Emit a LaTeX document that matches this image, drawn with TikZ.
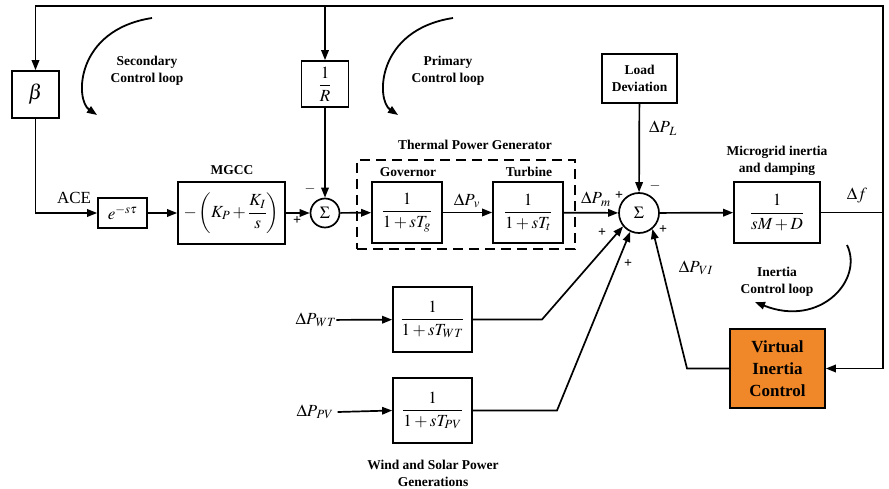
\documentclass[tikz,border=0pt]{standalone}
\usepackage{amsmath}
\usepackage{mathptmx}
\usepackage{fontspec}
\setmainfont{Liberation Serif}
\usetikzlibrary{arrows.meta}
\definecolor{vicor}{RGB}{240,135,40}
\tikzset{
 blk/.style={draw, line width=1.7pt, inner sep=0pt, font=\fontsize{17}{19}\selectfont},
 sumc/.style={draw, circle, line width=1.7pt, inner sep=0pt, font=\fontsize{17}{19}\selectfont},
 lbl/.style={font=\fontsize{13.5}{17}\selectfont\bfseries, align=center, inner sep=0pt},
 mth/.style={font=\fontsize{17}{19}\selectfont, inner sep=0pt},
 sgn/.style={font=\fontsize{14}{14}\selectfont\bfseries, inner sep=0pt},
 con/.style={line width=1.7pt},
 arr/.style={con, -{Triangle[length=10pt,width=7.5pt]}},
 loopar/.style={line width=1.8pt, -{Triangle[length=10pt,width=7.5pt]}},
}
\begin{document}
\begin{tikzpicture}[x=1pt,y=-1pt]
\useasboundingbox (0,0) rectangle (889,489);
% blocks
\node[blk, minimum width=47, minimum height=47] (beta) at (35.5,94.5) {\fontsize{21}{21}\selectfont$\beta$};
\node[blk, minimum width=49, minimum height=30] (delay) at (122.5,213) {$e^{-s\tau}$};
\node[blk, minimum width=107, minimum height=62] (mgcc) at (231.5,213) {$-\left(K_P+\dfrac{K_I}{s}\right)$};
\node[sumc, minimum size=29] (s1) at (325,213) {$\Sigma$};
\node[blk, minimum width=47, minimum height=46] (R) at (325,84) {$\dfrac{1}{R}$};
\node[draw, line width=1.7pt, dash pattern=on 10pt off 6pt, minimum width=218, minimum height=89, inner sep=0pt] (tpg) at (466,204.5) {};
\node[blk, minimum width=70, minimum height=61] (gov) at (407,212.5) {$\dfrac{1}{1+sT_g}$};
\node[blk, minimum width=70, minimum height=61] (tur) at (528,212.5) {$\dfrac{1}{1+sT_t}$};
\node[sumc, minimum size=40] (s2) at (639,213) {$\Sigma$};
\node[blk, lbl, minimum width=75, minimum height=49] (load) at (639.5,78.5) {Load\\Deviation};
\node[blk, minimum width=86, minimum height=61] (mg) at (777,212.5) {$\dfrac{1}{sM+D}$};
\node[blk, fill=vicor, minimum width=95, minimum height=79, align=center, font=\fontsize{17}{22}\selectfont\bfseries] (vic) at (777.5,368.5) {Virtual\\Inertia\\Control};
\node[blk, minimum width=79, minimum height=65] (wt) at (432.5,319.5) {$\dfrac{1}{1+sT_{WT}}$};
\node[blk, minimum width=79, minimum height=65] (pv) at (432.5,410.5) {$\dfrac{1}{1+sT_{PV}}$};
% input labels
\node[mth] (wtin) at (316,320) {$\Delta P_{\mkern2mu WT}$};
\node[mth] (pvin) at (315,412) {$\Delta P_{\mkern2mu PV}$};
% text labels
\node[lbl] (tsec) at (147,71) {Secondary\\Control loop};
\node[lbl] (tpri) at (448,71) {Primary\\Control loop};
\node[lbl] (tmgcc) at (232,170) {MGCC};
\node[lbl] (ttpg) at (475,145) {Thermal Power Generator};
\node[lbl] (tgov) at (408,172) {Governor};
\node[lbl] (ttur) at (529,172) {Turbine};
\node[lbl] (tmg) at (777,161) {Microgrid inertia\\and damping};
\node[lbl] (tin) at (777,282) {Inertia\\Control loop};
\node[lbl] (tws) at (433,473) {Wind and Solar Power\\Generations};
\node[mth] (tace) at (74,198) {ACE};
\node[mth] (tpv) at (467,201) {$\Delta P_{\mkern2mu v}$};
\node[mth] (tpm) at (596,199) {$\Delta P_{\mkern2mu m}$};
\node[mth] (tpl) at (663,128) {$\Delta P_{\mkern2mu L}$};
\node[mth] (tdf) at (857,195) {$\Delta f$};
\node[mth] (tvi) at (696,268) {$\Delta P_{\mkern2mu VI}$};
% signs
\node[sgn] (m1) at (310,189) {$-$};
\node[sgn] (p1) at (297,221) {+};
\node[sgn] (p2) at (619,196) {+};
\node[sgn] (m2) at (655,186) {$-$};
\node[sgn] (p3) at (602,233) {+};
\node[sgn] (p4) at (628,264) {+};
\node[sgn] (p5) at (663,230) {+};
% coordinates
\coordinate (top) at (0,6);
\coordinate (fr) at (883,212.5);
\coordinate (ftop) at (883,6);
\coordinate (wtk) at (542,319.5);
\coordinate (pvk) at (557,410.5);
\coordinate (vik) at (687,368.5);
% connectors
\draw[con] (mg.east) -- (fr);
\draw[arr] (fr) |- (vic.east);
\draw[arr] (fr) -- (ftop) -| (beta.north);
\draw[arr] (R.north |- top) -- (R.north);
\draw[arr] (R.south) -- (s1.north);
\draw[arr] (beta.south) |- (delay.west);
\draw[arr] (delay) -- (mgcc);
\draw[arr] (mgcc) -- (s1);
\draw[arr] (s1) -- (gov);
\draw[arr] (gov) -- (tur);
\draw[arr] (tur) -- (s2);
\draw[arr] (load) -- (s2);
\draw[arr] (s2) -- (mg);
\draw[arr] (wtin) -- (wt);
\draw[arr] (pvin.east) ++(4,0) -- (pv.west);
\draw[arr] (wt.east) -- (wtk) -- (s2.-140);
\draw[arr] (pv.east) -- (pvk) -- (s2.-115);
\draw[arr] (vic.west) -- (vik) -- (s2.-50);
% loop arrows
\draw[loopar] (152,18) .. controls (75,30) and (75,100) .. (97,115);
\draw[loopar] (453,18) .. controls (376,30) and (376,100) .. (398,115);
\draw[loopar] (847,245) .. controls (864,280) and (820,328) .. (755,302);
\end{tikzpicture}
\end{document}
